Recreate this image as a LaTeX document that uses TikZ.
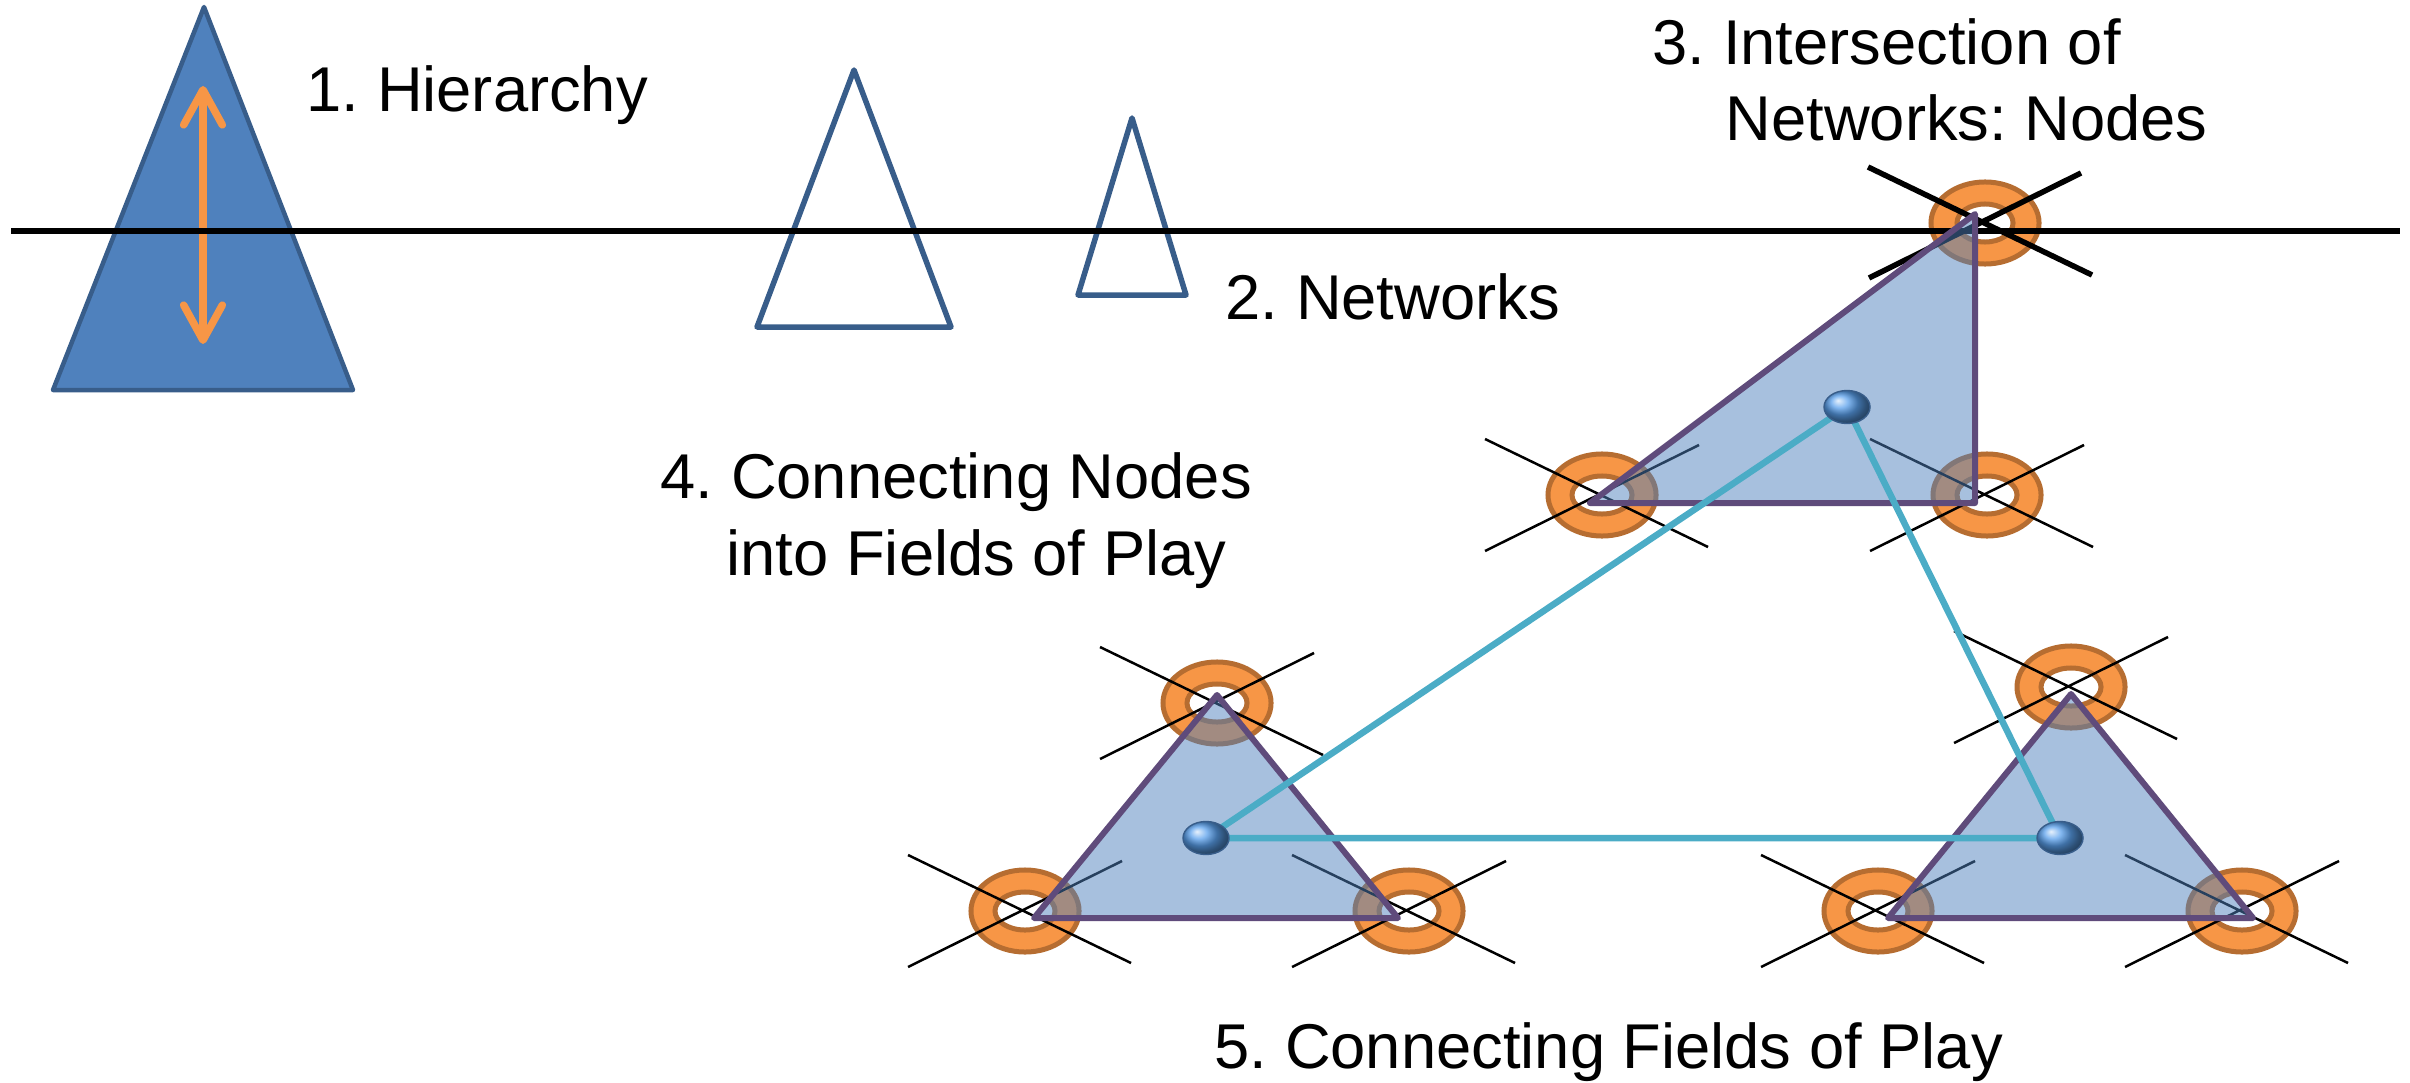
\documentclass[tikz,border=0pt]{standalone}
\usepackage{fontspec}
\setmainfont{Liberation Sans}
\frenchspacing
\usetikzlibrary{arrows.meta}
\usetikzlibrary{shapes.geometric}

\definecolor{hierfill}{HTML}{4F81BD}
\definecolor{hierdraw}{HTML}{385D8A}
\definecolor{ringfill}{HTML}{F79646}
\definecolor{ringdraw}{HTML}{B66D31}
\definecolor{fielddraw}{HTML}{5F4B7B}
\definecolor{linkcol}{HTML}{4BACC6}
\definecolor{dotblue}{HTML}{5AA0EC}

\begin{document}
\begin{tikzpicture}[x=0.01cm,y=-0.01cm,
    lbl/.style={inner sep=0pt,anchor=base west,font=\fontsize{18pt}{22pt}\selectfont},
    hier/.style={fill=hierfill,draw=hierdraw,line width=0.045cm,line join=round},
    netline/.style={draw=hierdraw,line width=0.055cm,line join=round},
    ring/.style={fill=ringfill,draw=ringdraw,line width=0.05cm,even odd rule},
    xline/.style={black,line width=0.025cm},
    fieldtri/.style={fill=hierfill,fill opacity=0.5,draw=fielddraw,draw opacity=1,line width=0.06cm,line join=round},
    link/.style={linkcol,line width=0.065cm},
    nodedot/.style={ellipse,minimum width=0.46cm,minimum height=0.33cm,inner sep=0pt,draw=hierdraw,thin,shading=ball,ball color=dotblue}]
    \useasboundingbox (0,0) rectangle (2410,1082);

    % Hierarchy:
    % filled triangle with a double arrow inside
    \draw[hier] (204,7) -- (353,390) -- (53,390) -- cycle;
    \draw[ringfill,line width=0.075cm,line cap=round,{Straight Barb[length=10pt,width=11pt,round]}-{Straight Barb[length=10pt,width=11pt,round]}] (203,86) -- (203,344);

    % Networks:
    \draw[netline] (854,70) -- (951,327) -- (757,327) -- cycle;
    \draw[netline] (1132,118) -- (1186,295) -- (1078,295) -- cycle;

    % Rings with their crossing lines:
    \foreach \x/\y in {1602/495, 1987/495, 1217/703, 1025/911, 1409/911, 2071/687, 1878/911, 2242/911} {
        \path[ring] (\x,\y) ellipse [x radius=0.54cm, y radius=0.41cm] (\x,\y) ellipse [x radius=0.30cm, y radius=0.19cm];
        \draw[xline] (\x-117,\y-56) -- (\x+106,\y+52) (\x-117,\y+56) -- (\x+97,\y-50);
    }
    % Intersection ring, thicker cross
    \path[ring] (1985,223) ellipse [x radius=0.54cm, y radius=0.41cm] (1985,223) ellipse [x radius=0.28cm, y radius=0.19cm];
    \draw[xline,line width=0.055cm] (1868,167) -- (2092,275) (1869,278) -- (2081,173);

    % Horizon line:
    \draw[line width=0.055cm] (11,231) -- (2400,231);

    % Fields of play:
    \draw[fieldtri] (1975,214) -- (1975,503) -- (1590,503) -- cycle;
    \draw[fieldtri] (1217,695) -- (1398,918) -- (1034,918) -- cycle;
    \draw[fieldtri] (2071,694) -- (2253,918) -- (1888,918) -- cycle;

    % Connections between the fields:
    \coordinate (c1) at (1847,407);
    \coordinate (c2) at (1206,838);
    \coordinate (c3) at (2060,838);
    \draw[link] (c1) -- (c2) -- (c3) -- cycle;
    \node[nodedot] (dot1) at (c1) {};
    \node[nodedot] (dot2) at (c2) {};
    \node[nodedot] (dot3) at (c3) {};

    % Labels:
    \node[lbl] (hierlbl) at (306,112) {1. Hierarchy};
    \node[lbl] (netlbl) at (1225,319) {2. Networks};
    \node[lbl] (interlbl) at (1652,65) {3. Intersection of};
    \node[lbl] (interlbl2) at (1725,140) {Networks: Nodes};
    \node[lbl] (conlbl) at (660,498) {4. Connecting Nodes};
    \node[lbl] (conlbl2) at (726,575) {into Fields of Play};
    \node[lbl] (fieldlbl) at (1214,1068) {5. Connecting Fields of Play};
\end{tikzpicture}
\end{document}
